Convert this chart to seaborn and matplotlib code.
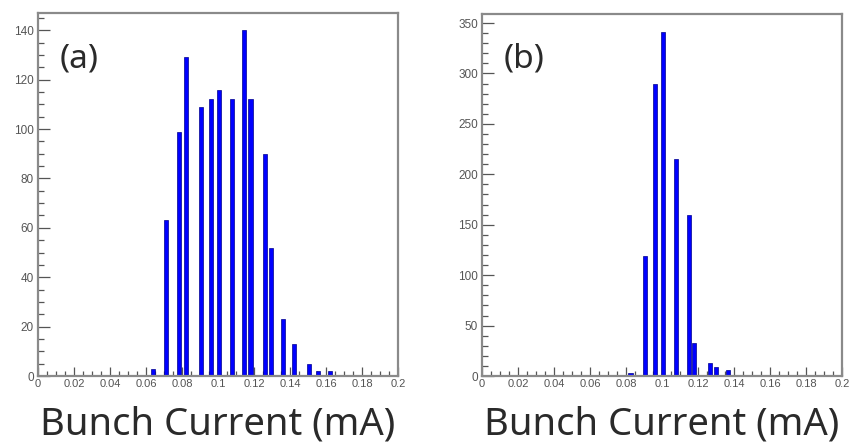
import numpy as np
import pandas as pd
import seaborn as sns
import matplotlib.pyplot as plt
from matplotlib.ticker import MultipleLocator, FuncFormatter

# bunch current histograms
a_current = [0.064, 0.071, 0.0785, 0.082, 0.0905, 0.096, 0.1005, 0.108, 0.1145,
             0.118, 0.126, 0.1295, 0.136, 0.142, 0.1505, 0.1555, 0.162]
a_counts = [3, 63, 99, 129, 109, 112, 116, 112, 140, 112, 90, 52, 23, 13, 5, 2, 2]

b_current = [0.0825, 0.0905, 0.096, 0.1005, 0.108, 0.1148, 0.118, 0.1267, 0.130, 0.1365]
b_counts = [3, 119, 290, 341, 215, 160, 33, 13, 9, 6]

BAR_W = 0.0023
FRAME = "#8a8a8a"
TICK_TXT = "#555555"
TITLE_FONT = ['Noto Sans', 'DejaVu Sans']

sns.set_style("white")
plt.rcParams['font.family'] = ['Liberation Sans', 'DejaVu Sans']

fig = plt.figure(figsize=(8.52, 4.47), dpi=100)
ax_a = fig.add_axes([0.0446, 0.1588, 0.4226, 0.8122])
ax_b = fig.add_axes([0.5657, 0.1588, 0.4226, 0.8099])


def tick_fmt(v, pos):
    if abs(v) < 1e-9:
        return "0"
    return f"{v:.2f}".rstrip("0")


def draw(ax, xs, ys, ymax, ymajor, yminor, tag):
    df = pd.DataFrame({"current": xs, "count": ys})
    w = BAR_W / np.diff(np.sort(xs)).min()
    sns.barplot(data=df, x="current", y="count", native_scale=True, width=w,
                color="#0000ff", saturation=1, edgecolor="#00008c", linewidth=0.5,
                errorbar=None, ax=ax)
    ax.set_xlim(0, 0.2)
    ax.set_ylim(0, ymax)
    ax.xaxis.set_major_locator(MultipleLocator(0.02))
    ax.xaxis.set_minor_locator(MultipleLocator(0.005))
    ax.xaxis.set_major_formatter(FuncFormatter(tick_fmt))
    ax.yaxis.set_major_locator(MultipleLocator(ymajor))
    ax.yaxis.set_minor_locator(MultipleLocator(yminor))
    ax.tick_params(which="both", bottom=True, left=True, top=False, right=False,
                   direction="in", color="#555555", width=0.9)
    ax.tick_params(axis="x", which="major", length=6.5, labelsize=8,
                   labelcolor=TICK_TXT, pad=2)
    ax.tick_params(axis="x", which="minor", length=3.5)
    ax.tick_params(axis="y", which="major", length=8.5, labelsize=8.5,
                   labelcolor=TICK_TXT, pad=3)
    ax.tick_params(axis="y", which="minor", length=4.5)
    for s in ax.spines.values():
        s.set_color(FRAME)
        s.set_linewidth(1.6)
    ax.set_ylabel("")
    ax.set_xlabel("Bunch Current (mA)", fontsize=27.5, color="#2a2a2a",
                  family=TITLE_FONT, labelpad=12)
    ax.text(0.06, 0.92, tag, transform=ax.transAxes, fontsize=24, color="#2a2a2a",
            family=TITLE_FONT, va="top", ha="left")


draw(ax_a, a_current, a_counts, 147, 20, 5, "(a)")
draw(ax_b, b_current, b_counts, 359, 50, 10, "(b)")

fig.savefig("out.png", dpi=100)
